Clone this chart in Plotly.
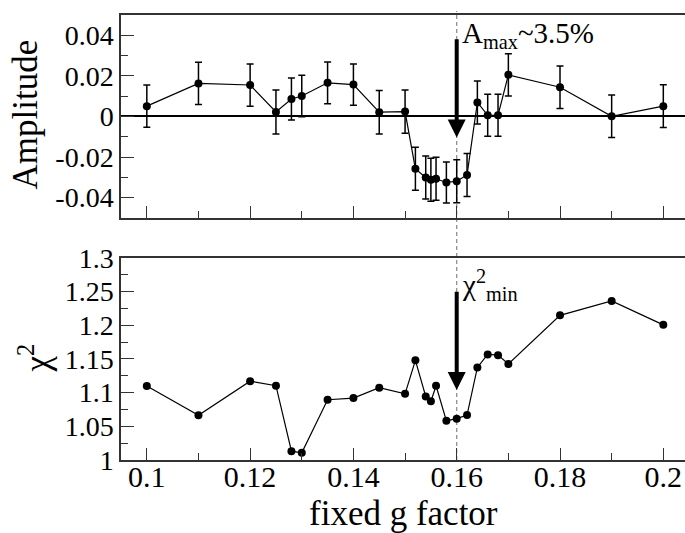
import plotly.graph_objects as go

# ---- data ----
g_factor = [0.100, 0.110, 0.120, 0.125, 0.128, 0.130, 0.135, 0.140, 0.145, 0.150,
            0.152, 0.154, 0.155, 0.156, 0.158, 0.160, 0.162, 0.164, 0.166, 0.168,
            0.170, 0.180, 0.190, 0.200]
amplitude = [0.0051, 0.0163, 0.0155, 0.0022, 0.0086, 0.0101, 0.0166, 0.0157, 0.0021, 0.0024,
             -0.0258, -0.0301, -0.0312, -0.0307, -0.0325, -0.0319, -0.0288, 0.0069, 0.0006, 0.0006,
             0.0205, 0.0144, 0.0001, 0.0051]
amp_err = [0.0104, 0.0104, 0.0104, 0.0108, 0.0103, 0.0102, 0.0103, 0.0102, 0.0107, 0.0106,
           0.0106, 0.0106, 0.0106, 0.0106, 0.0101, 0.0106, 0.0106, 0.0106, 0.0104, 0.0104,
           0.0104, 0.0105, 0.0105, 0.0105]
chi2 = [1.1099, 1.0663, 1.1171, 1.1103, 1.0131, 1.0106, 1.0895, 1.0919, 1.1074, 1.0982,
        1.1480, 1.0943, 1.0871, 1.1103, 1.0581, 1.0614, 1.0668, 1.1374, 1.1567, 1.1557,
        1.1427, 1.2148, 1.2361, 1.2007]

x_ticks = [0.1, 0.12, 0.14, 0.16, 0.18, 0.2]
x_tick_labels = ["0.1", "0.12", "0.14", "0.16", "0.18", "0.2"]
amp_ticks = [-0.04, -0.02, 0, 0.02, 0.04]
amp_tick_labels = ["-0.04", "-0.02", "0", "0.02", "0.04"]
chi_ticks = [1, 1.05, 1.1, 1.15, 1.2, 1.25, 1.3]
chi_tick_labels = ["1", "1.05", "1.1", "1.15", "1.2", "1.25", "1.3"]

g_best = 0.16
arrow_amp = [0.0385, -0.0104]
arrow_chi = [1.2515, 1.104]

FONT = "Liberation Serif, Times New Roman, serif"
AX = "#333333"

fig = go.Figure()
fig.add_trace(go.Scatter(
    x=g_factor, y=amplitude, mode="lines+markers",
    line=dict(color="black", width=1.2),
    marker=dict(color="black", size=8),
    error_y=dict(type="data", array=amp_err, width=3.5, thickness=1.5, color="black"),
    xaxis="x", yaxis="y", showlegend=False))
fig.add_trace(go.Scatter(
    x=g_factor, y=chi2, mode="lines+markers",
    line=dict(color="black", width=1.2),
    marker=dict(color="black", size=8),
    xaxis="x2", yaxis="y2", showlegend=False))

xcommon = dict(range=[0.095, 0.2042], showline=True, linecolor=AX, linewidth=1.5,
               mirror=True, ticks="inside", ticklen=12, tickwidth=1.2, tickcolor=AX,
               tickvals=x_ticks, showgrid=False, zeroline=False,
               minor=dict(dtick=0.01, tick0=0.1, ticks="inside", ticklen=7,
                          tickwidth=1.2, tickcolor=AX, showgrid=False),
               tickfont=dict(family=FONT, size=30, color="black"))
ycommon = dict(showline=True, linecolor=AX, linewidth=1.5, ticks="inside",
               ticklen=13, tickwidth=1.2, tickcolor=AX, showgrid=False,
               tickfont=dict(family=FONT, size=28, color="black"))

fig.update_layout(
    width=685, height=533,
    font=dict(family=FONT, color="black"),
    margin=dict(l=121, r=0, t=4, b=73),
    paper_bgcolor="white", plot_bgcolor="white",
    xaxis=dict(**xcommon, anchor="y", showticklabels=False),
    yaxis=dict(**ycommon, domain=[0.5439, 1], range=[-0.05, 0.05],
               tickvals=amp_ticks, ticktext=amp_tick_labels,
               zeroline=True, zerolinecolor="black", zerolinewidth=1.5,
               minor=dict(dtick=0.01, tick0=0, ticks="inside", ticklen=7,
                          tickwidth=1.2, tickcolor=AX, showgrid=False)),
    xaxis2=dict(**xcommon, anchor="y2", ticktext=x_tick_labels, ticklabelstandoff=-11),
    yaxis2=dict(**ycommon, domain=[0, 0.454], range=[1, 1.3],
                tickvals=chi_ticks, ticktext=chi_tick_labels, zeroline=False,
                minor=dict(dtick=0.025, tick0=1, ticks="inside", ticklen=7,
                           tickwidth=1.2, tickcolor=AX, showgrid=False)),
)

# dashed vertical guide through both panels
fig.add_shape(type="line", xref="x", yref="paper", x0=g_best, x1=g_best,
              y0=0, y1=1.009, line=dict(color="#888888", width=1.2, dash="4px,3px"),
              layer="below")

# arrows
for yr, vals in (("y", arrow_amp), ("y2", arrow_chi)):
    xr = "x" if yr == "y" else "x2"
    fig.add_annotation(x=g_best, y=vals[1], ax=g_best, ay=vals[0],
                       xref=xr, yref=yr, axref=xr, ayref=yr, text=" ",
                       font=dict(size=1), borderpad=0,
                       showarrow=True, arrowhead=2, arrowsize=0.9, arrowwidth=4,
                       arrowcolor="black", standoff=0, startstandoff=0)

# labels
fig.add_annotation(text="A<sub>max</sub>~3.5%", xref="paper", yref="paper",
                   x=(460 - 121) / 564, y=(460 - 4) / 456, xanchor="left", yanchor="top",
                   showarrow=False, font=dict(family=FONT, size=29, color="black"))
fig.add_annotation(text="χ<sup>2</sup><sub>min</sub>", xref="paper", yref="paper",
                   x=(460 - 121) / 564, y=(460 - 258) / 456, xanchor="left", yanchor="top",
                   showarrow=False, font=dict(family=FONT, size=29, color="black"))

# axis titles
fig.add_annotation(text="Amplitude", xref="paper", yref="paper",
                   x=(26 - 121) / 564, y=(460 - 106) / 456, textangle=-90,
                   xanchor="center", yanchor="middle", showarrow=False,
                   font=dict(family=FONT, size=35, color="black"))
fig.add_annotation(text="χ<sup>2</sup>", xref="paper", yref="paper",
                   x=(35 - 121) / 564, y=(460 - 356) / 456, textangle=-90,
                   xanchor="center", yanchor="middle", showarrow=False,
                   font=dict(family=FONT, size=35, color="black"))
fig.add_annotation(text="fixed g factor", xref="paper", yref="paper",
                   x=(403.5 - 121) / 564, y=(460 - 515) / 456,
                   xanchor="center", yanchor="middle", showarrow=False,
                   font=dict(family=FONT, size=35, color="black"))

fig.write_html("out.html")
